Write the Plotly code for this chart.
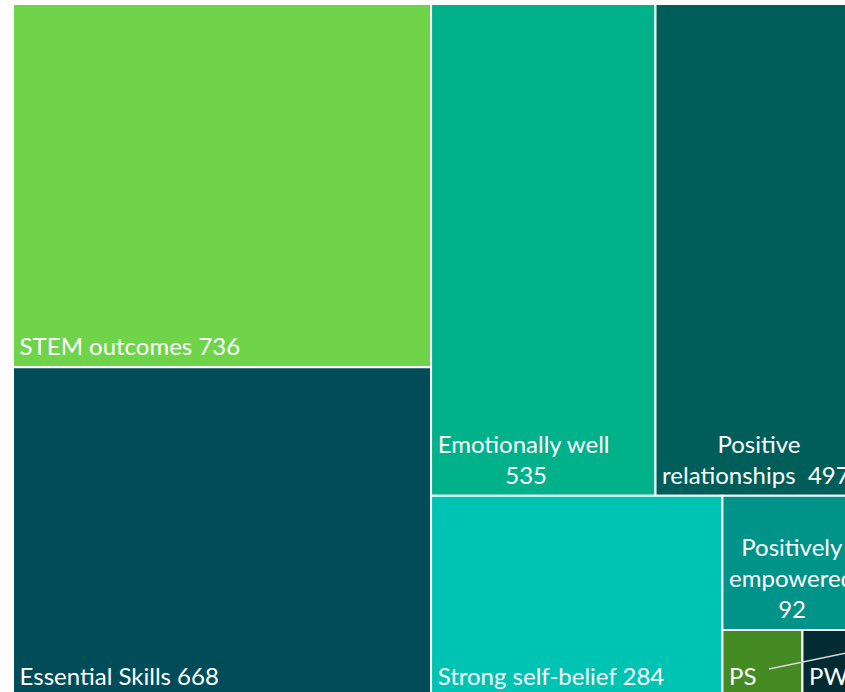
import plotly.graph_objects as go

labels = ["STEM outcomes", "Essential Skills", "Emotionally well", "Positive relationships",
          "Strong self-belief", "Positively empowered", "PS", "PW"]
values = [736, 668, 535, 497, 284, 92, 26, 20]
# label lines as shown in each tile
label_lines = [["STEM outcomes 736"], ["Essential Skills 668"], ["Emotionally well", "535"],
               ["Positive", "relationships  497"], ["Strong self-belief 284"],
               ["Positively", "empowered", "92"], ["PS"], ["PW"]]
# leading non-breaking spaces per line (to centre short lines under long ones)
line_indent = [[0], [0], [0, 11], [9, 0], [0], [2, 0, 8], [0], [0]]
colors = ["#70D44B", "#004D59", "#00B189", "#005E5A", "#00C4B3", "#00938A", "#458B24", "#022B32"]

NB = "\u00a0"
LEAD = "<span style='font-size:14px'>" + NB + "</span>"
display_text = []
for lines, ind in zip(label_lines, line_indent):
    txt = "<br>".join(LEAD + NB * n + s for s, n in zip(lines, ind))
    display_text.append(txt + "<sub>" + NB + "</sub>")

W, H = 900, 720
L, T, R, B = 13, 4, 36, 23

fig = go.Figure(go.Treemap(
    labels=labels,
    parents=[""] * len(labels),
    values=values,
    text=display_text,
    textinfo="text",
    textposition="bottom left",
    sort=True,
    tiling=dict(packing="squarify", squarifyratio=1.618, pad=0),
    marker=dict(colors=colors, line=dict(color="white", width=2),
                pad=dict(t=0, l=0, r=0, b=0)),
    insidetextfont=dict(family="Lato", size=24, color="white"),
    textfont=dict(family="Lato", size=24, color="white"),
    pathbar=dict(visible=False),
    hoverinfo="skip",
))

# leader line from the small tiles' callout
pw, ph = W - L - R, H - T - B
def px_x(x):
    return (x - L) / pw
def px_y(y):
    return 1 - (y - T) / ph
fig.add_shape(type="line", xref="paper", yref="paper",
              x0=px_x(769), y0=px_y(669), x1=px_x(900), y1=px_y(642),
              line=dict(color="#D9D9D9", width=1.5))

fig.update_layout(
    width=W, height=H,
    margin=dict(l=L, t=T, r=R, b=B),
    paper_bgcolor="white",
    showlegend=False,
)

fig.write_html("out.html", post_script=(
    "document.documentElement.style.overflow='hidden';"
    "document.body.style.overflow='hidden';document.body.style.margin='0';"
))
